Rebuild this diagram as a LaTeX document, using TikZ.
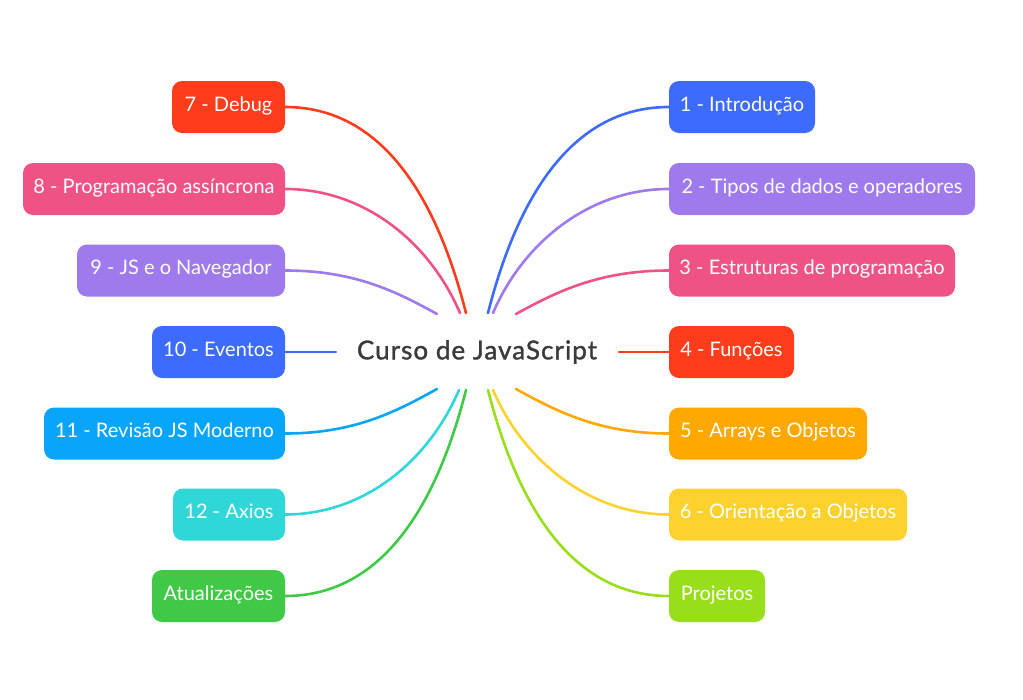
\documentclass[tikz,border=0pt]{standalone}
\usepackage{fontspec}
\setmainfont{Lato}
\newfontfamily\titlefont{Lato}[FakeBold=1.3, LetterSpace=4]
\usetikzlibrary{calc}
\definecolor{mapInk}{RGB}{58,58,60}
\definecolor{mapRed}{RGB}{255,61,28}
\definecolor{mapPink}{RGB}{239,83,134}
\definecolor{mapPurple}{RGB}{158,122,236}
\definecolor{mapBlue}{RGB}{61,107,253}
\definecolor{mapSky}{RGB}{8,165,250}
\definecolor{mapTeal}{RGB}{48,215,216}
\definecolor{mapGreen}{RGB}{64,201,71}
\definecolor{mapOrange}{RGB}{255,168,0}
\definecolor{mapYellow}{RGB}{253,210,46}
\definecolor{mapLime}{RGB}{152,222,26}
\tikzset{
  topic/.style={rounded corners=10pt, draw=none, minimum height=52pt,
    inner xsep=8pt, inner ysep=0pt, text=white, align=center,
    font=\fontsize{20}{23}\selectfont, text height=1.75ex, text depth=0ex},
  root/.style={text=mapInk, inner sep=2pt,
    font=\titlefont\fontsize{26}{30}\selectfont},
  branch/.style={line width=2.6pt, line cap=round}
}

\begin{document}
\begin{tikzpicture}[x=1pt, y=-1pt]
\path[use as bounding box, fill=white] (0,0) rectangle (1023,699);

\node[root] (root) at (477,352) {Curso de JavaScript};

% left side
\node[topic, fill=mapRed, minimum width=113pt] (c7) at (228.5,107) {7 - Debug};
\node[topic, fill=mapPink, minimum width=262pt] (c8) at (154,189)
  {8 - Programação assíncrona};
\node[topic, fill=mapPurple, minimum width=208pt] (c9) at (181,270.5)
  {9 - JS e o Navegador};
\node[topic, fill=mapBlue, minimum width=133pt] (c10) at (218.5,352)
  {10 - Eventos};
\node[topic, fill=mapSky, minimum width=241pt] (c11) at (164.5,433.5)
  {11 - Revisão JS Moderno};
\node[topic, fill=mapTeal, minimum width=112pt] (c12) at (229,514.5)
  {12 - Axios};
\node[topic, fill=mapGreen, minimum width=133pt] (upd) at (218.5,596)
  {Atualizações};

% right side
\node[topic, fill=mapBlue, minimum width=146pt] (c1) at (742,107)
  {1 - Introdução};
\node[topic, fill=mapPurple, minimum width=306pt] (c2) at (822,189)
  {2 - Tipos de dados e operadores};
\node[topic, fill=mapPink, minimum width=286pt] (c3) at (812,270.5)
  {3 - Estruturas de programação};
\node[topic, fill=mapRed, minimum width=125pt] (c4) at (731.5,352)
  {4 - Funções};
\node[topic, fill=mapOrange, minimum width=198pt] (c5) at (768,433.5)
  {5 - Arrays e Objetos};
\node[topic, fill=mapYellow, minimum width=238pt] (c6) at (788,514.5)
  {6 - Orientação a Objetos};
\node[topic, fill=mapLime, minimum width=96pt] (proj) at (717,596)
  {Projetos};

% free ends round the title
\coordinate (e7) at (466,313);
\coordinate (e8) at (460,313);
\coordinate (e9) at (437,314);
\coordinate (e10) at (336,352);
\coordinate (e11) at (437,389);
\coordinate (e12) at (459,390);
\coordinate (eu) at (466,390);
\coordinate (e1) at (488,313);
\coordinate (e2) at (493,313);
\coordinate (e3) at (516,314);
\coordinate (e4) at (619,352);
\coordinate (e5) at (516,389);
\coordinate (e6) at (493,390);
\coordinate (ep) at (488,390);

\draw[branch, draw=mapRed] (c7.east) .. controls +(100,0) and +(-28,-110) .. (e7);
\draw[branch, draw=mapPink] (c8.east) .. controls +(80,0) and +(-30,-70) .. (e8);
\draw[branch, draw=mapPurple] (c9.east) .. controls +(70,0) and +(-40,-22) .. (e9);
\draw[branch, draw=mapBlue] (c10.east) -- (e10);
\draw[branch, draw=mapSky] (c11.east) .. controls +(70,0) and +(-40,22) .. (e11);
\draw[branch, draw=mapTeal] (c12.east) .. controls +(80,0) and +(-30,70) .. (e12);
\draw[branch, draw=mapGreen] (upd.east) .. controls +(100,0) and +(-28,110) .. (eu);

\draw[branch, draw=mapBlue] (c1.west) .. controls +(-100,0) and +(28,-110) .. (e1);
\draw[branch, draw=mapPurple] (c2.west) .. controls +(-80,0) and +(30,-70) .. (e2);
\draw[branch, draw=mapPink] (c3.west) .. controls +(-70,0) and +(40,-22) .. (e3);
\draw[branch, draw=mapRed] (c4.west) -- (e4);
\draw[branch, draw=mapOrange] (c5.west) .. controls +(-70,0) and +(40,22) .. (e5);
\draw[branch, draw=mapYellow] (c6.west) .. controls +(-80,0) and +(30,70) .. (e6);
\draw[branch, draw=mapLime] (proj.west) .. controls +(-100,0) and +(28,110) .. (ep);
\end{tikzpicture}
\end{document}
